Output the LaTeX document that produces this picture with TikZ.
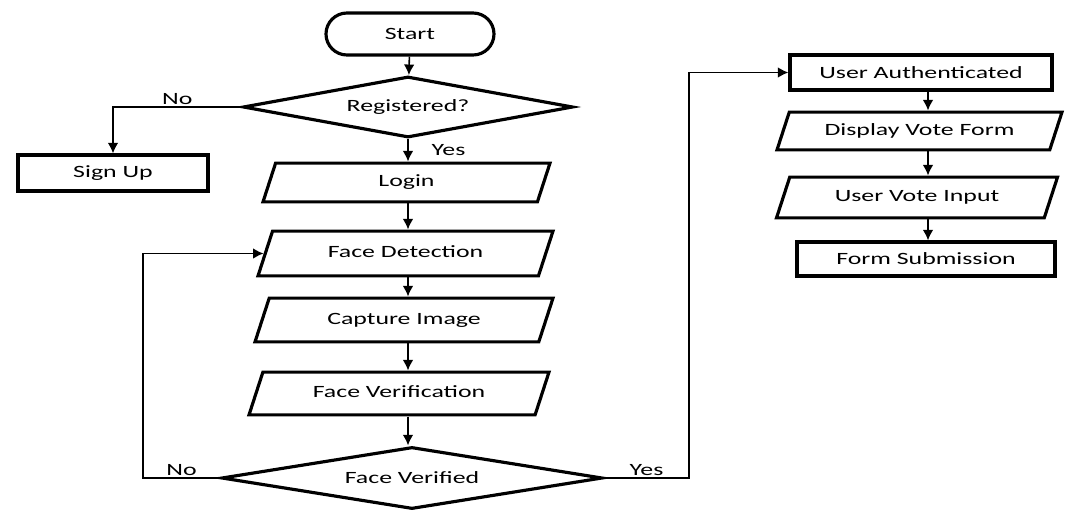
\documentclass[tikz,border=0pt]{standalone}
\usepackage{fontspec}
\setmainfont{Carlito}[FakeStretch=1.5]
\usetikzlibrary{shapes.geometric,shapes.misc,arrows.meta,positioning}
\tikzset{
  startstop/.style={rounded rectangle, draw, line width=1.8pt, minimum width=3.36cm, minimum height=0.84cm, inner sep=0pt},
  decision/.style={diamond, draw, line width=1.8pt, aspect=5.4, inner sep=0pt},
  process/.style={rectangle, draw, line width=1.8pt, inner sep=0pt},
  io/.style={trapezium, trapezium left angle=72, trapezium right angle=108, trapezium stretches body=true, draw, line width=1.8pt, inner xsep=0pt, inner ysep=0.27cm, text height=7pt, text depth=2pt, minimum width=5.9cm},
  arrow/.style={line width=0.9pt, -{Latex[length=6pt,width=6pt]}},
  lbl/.style={inner sep=1pt}
}

\begin{document}
\begin{tikzpicture}[font=\fontsize{9.8}{12}\selectfont]
			\useasboundingbox (0,0) rectangle (21.4,10.18);
			\node[startstop] (start) at (8.2,9.50) {Start};
			\node[decision, minimum width=6.6cm, minimum height=1.22cm] (reg) at (8.16,8.04) {Registered?};
			\node[process, minimum width=3.8cm, minimum height=0.72cm] (signup) at (2.26,6.72) {Sign Up};
			\node[io, inner ysep=0.23cm, minimum width=5.74cm] (login) at (8.13,6.53) {Login};
			\node[io, inner ysep=0.29cm] (facedet) at (8.11,5.11) {Face Detection};
			\node[io, inner ysep=0.28cm, minimum width=5.96cm] (capture) at (8.08,3.78) {Capture Image};
			\node[io, minimum width=6.0cm] (faceverif) at (7.98,2.31) {Face Verification};
			\node[decision, minimum width=7.62cm, minimum height=1.24cm, aspect=6] (faceok) at (8.24,0.62) {Face Verified};
			\node[process, minimum width=5.24cm, minimum height=0.7cm] (userauth) at (18.42,8.73) {User Authenticated};
			\node[io, inner ysep=0.22cm, minimum width=5.7cm] (display) at (18.39,7.56) {Display Vote Form};
			\node[io, inner ysep=0.25cm, minimum width=5.62cm] (voteinput) at (18.34,6.23) {User Vote Input};
			\node[process, minimum width=5.16cm, minimum height=0.68cm] (submit) at (18.52,5.0) {Form Submission};
			\coordinate (noturn) at (2.86,0.62);
			\coordinate (yesturn) at (13.78,0.62);

			\draw[arrow] (start) -- (reg);
			\draw[arrow] (reg.west) -| node[lbl, pos=0.25, above] {No} (signup.north);
			\draw[arrow] (reg.south) -- node[lbl, midway, right=12pt] {Yes} (reg.south |- login.north);
			\draw[arrow] (login.south -| reg.south) -- (reg.south |- facedet.north);
			\draw[arrow] (facedet.south -| reg.south) -- (reg.south |- capture.north);
			\draw[arrow] (capture.south -| reg.south) -- (reg.south |- faceverif.north);
			\draw[arrow] (faceverif.south -| reg.south) -- (reg.south |- faceok.north);
			\draw[arrow] (faceok.west) -- node[lbl, midway, above] {No} (noturn) |- (facedet.west);
			\draw[arrow] (faceok.east) -- node[lbl, midway, above] {Yes} (yesturn) |- (userauth.west);
			\draw[arrow] (userauth.south -| 18.56,0) -- (18.56,0 |- display.north);
			\draw[arrow] (display.south -| 18.56,0) -- (18.56,0 |- voteinput.north);
			\draw[arrow] (voteinput.south -| 18.56,0) -- (18.56,0 |- submit.north);
		\end{tikzpicture}
\end{document}
